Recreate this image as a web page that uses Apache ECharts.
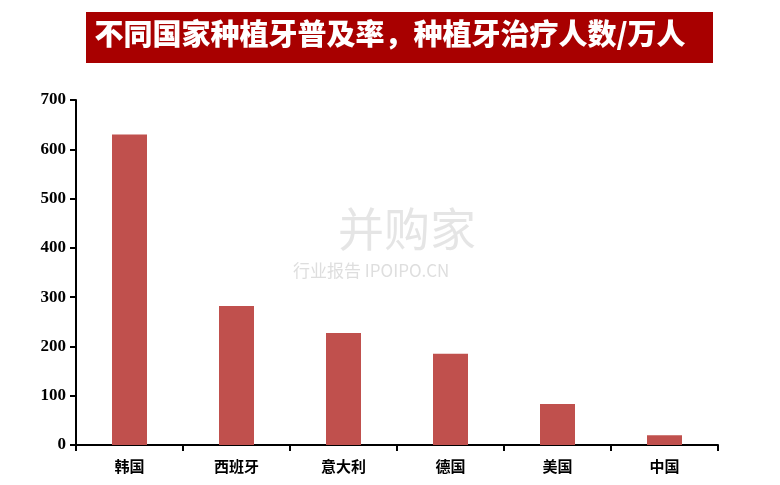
<!DOCTYPE html>
<html><head><meta charset="utf-8">
<script src="https://cdn.jsdelivr.net/npm/echarts@6/dist/echarts.min.js"></script>
<style>html,body{margin:0;padding:0;background:#fff}#c{width:780px;height:485px}</style>
</head><body><div id="c"></div>
<script>
const titleText = '不同国家种植牙普及率，种植牙治疗人数/万人';
const categories = ['韩国','西班牙','意大利','德国','美国','中国'];
const values = [630, 282, 227, 185, 83, 20];
const yTicks = {min: 0, max: 700, interval: 100};

const chart = echarts.init(document.getElementById('c'));
chart.setOption({
  animation: false,
  graphic: [
    {type:'rect', left: 86, top: 12, shape:{width: 627, height: 51}, style:{fill:'#a80000'}},
    {type:'text', left: 'center', top: 19, style:{text: titleText, fill:'#fff', font:'900 29px "Noto Sans CJK SC"'}},
    {type:'text', left: 338, top: 206, z: -1, style:{text:'并购家', fill:'rgba(190,190,190,0.4)', font:'46px "Noto Sans CJK SC"'}},
    {type:'text', left: 293, top: 262, z: -1, style:{text:'行业报告 IPOIPO.CN', fill:'rgba(190,190,190,0.5)', font:'17px "Noto Sans CJK SC"'}}
  ],
  grid: {left: 76, right: 62, top: 100, bottom: 40},
  xAxis: {
    type: 'category', data: categories,
    axisLine: {lineStyle: {color: '#000', width: 2}},
    axisTick: {show: true, length: 6, lineStyle: {color: '#000', width: 2}},
    axisLabel: {color: '#000', fontWeight: 'bold', fontSize: 15, fontFamily: '"Noto Sans CJK SC"', margin: 14}
  },
  yAxis: {
    type: 'value', min: yTicks.min, max: yTicks.max, interval: yTicks.interval,
    axisLine: {show: true, lineStyle: {color: '#000', width: 2}},
    axisTick: {show: true, length: 6, lineStyle: {color: '#000', width: 2}},
    splitLine: {show: false},
    axisLabel: {color: '#000', fontWeight: 'bold', fontSize: 17, fontFamily: '"Liberation Serif"', margin: 10}
  },
  series: [{type: 'bar', data: values, barWidth: 35, itemStyle: {color: '#c0504d'}}]
});
</script></body></html>
